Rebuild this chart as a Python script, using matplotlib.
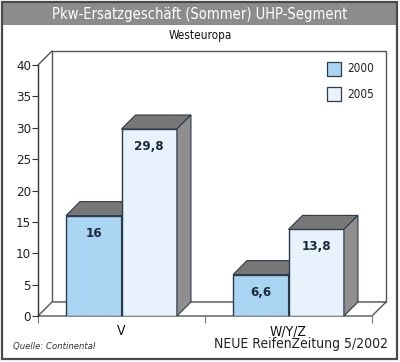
import matplotlib
matplotlib.use("Agg")
import matplotlib.pyplot as plt
from matplotlib.patches import Rectangle, Polygon
from matplotlib import font_manager as fm

categories = ["V", "W/Y/Z"]
series_names = ["2000", "2005"]
values_2000 = [16, 6.6]
values_2005 = [29.8, 13.8]
value_labels_2000 = ["16", "6,6"]
value_labels_2005 = ["29,8", "13,8"]
yticks = [0, 5, 10, 15, 20, 25, 30, 35, 40]
title = "Pkw-Ersatzgeschäft (Sommer) UHP-Segment"
subtitle = "Westeuropa"
source = "Quelle: Continental"
credit = "NEUE ReifenZeitung 5/2002"

names = {f.name for f in fm.fontManager.ttflist}
FAM = ['Liberation Sans Narrow', 'DejaVu Sans'] if 'Liberation Sans Narrow' in names else ['DejaVu Sans']
plt.rcParams['font.family'] = FAM
plt.rcParams['font.stretch'] = 'condensed'

W, H = 400, 362
fig = plt.figure(figsize=(W / 100, H / 100), dpi=100)
fig.patch.set_facecolor('white')

def fx(px):
    return px / W

def fy(py):
    return 1 - py / H

# outer frame and title bar
fig.patches.append(Rectangle((fx(2), fy(359)), fx(395), (357) / H, transform=fig.transFigure,
                             facecolor='none', edgecolor='#4a4a4a', linewidth=1.6, zorder=5))
fig.patches.append(Rectangle((fx(3), fy(25)), fx(394), 22 / H, transform=fig.transFigure,
                             facecolor='#8c8c8c', edgecolor='none', zorder=1))
fig.text(0.5, fy(14), title, color='white', fontsize=10.5, ha='center', va='center')
fig.text(0.5, fy(36), subtitle, color='#111111', fontsize=8.5, ha='center', va='center')
fig.text(fx(13), fy(347), source, color='#333333', fontsize=6.8, style='italic', ha='left', va='center')
fig.text(fx(388), fy(344), credit, color='#222222', fontsize=10, ha='right', va='center')

ax = fig.add_axes([fx(38), fy(316), fx(334), 251 / H])
ax.set_xlim(-0.5, 1.5)
ax.set_ylim(0, 40)
ax.patch.set_alpha(0)
for s in ['top', 'right', 'bottom']:
    ax.spines[s].set_visible(False)
ax.spines['left'].set_color('#333333')
ax.spines['left'].set_linewidth(1.0)

# depth in data units (14 px)
dx = 14 / (334 / 2.0)
dy = 14 / (251 / 40.0)
line_c = '#555555'

# back wall
ax.add_patch(Rectangle((-0.5 + dx, dy), 2.0, 40, facecolor='white', edgecolor=line_c,
                       linewidth=1.0, clip_on=False, zorder=0))
# floor
ax.add_patch(Polygon([(-0.5, 0), (1.5, 0), (1.5 + dx, dy), (-0.5 + dx, dy)], closed=True,
                     facecolor='white', edgecolor=line_c, linewidth=1.0, clip_on=False, zorder=1))
# top-left connector
ax.plot([-0.5, -0.5 + dx], [40, 40 + dy], color=line_c, linewidth=1.0, clip_on=False, zorder=1)

width = 0.332
edge = '#2c3b4a'
colors = ['#a9d4f2', '#e7f2fc']
top_c = '#777777'
side_c = '#8f8f8f'

def bar3d(x0, v, color, label):
    x1 = x0 + width
    ax.bar(x0, v, width=width, align='edge', color=color, edgecolor=edge, linewidth=1.0, zorder=3)
    ax.add_patch(Polygon([(x0, v), (x0 + dx, v + dy), (x1 + dx, v + dy), (x1, v)], closed=True,
                         facecolor=top_c, edgecolor=edge, linewidth=0.8, zorder=3, clip_on=False))
    ax.add_patch(Polygon([(x1, 0), (x1 + dx, dy), (x1 + dx, v + dy), (x1, v)], closed=True,
                         facecolor=side_c, edgecolor=edge, linewidth=0.8, zorder=3, clip_on=False))
    ax.text(x0 + width / 2, v - 2.8, label, ha='center', va='center', fontsize=9.5,
            color='#1c2a3c', fontweight='bold', zorder=5)

for i in range(len(categories)):
    bar3d(i - width, values_2000[i], colors[0], value_labels_2000[i])
    bar3d(i, values_2005[i], colors[1], value_labels_2005[i])

ax.set_yticks(yticks)
ax.set_yticklabels([str(t) for t in yticks])
ax.tick_params(axis='y', direction='out', length=4, width=0.8, color='#333333',
               labelsize=9.5, labelcolor='#222222', pad=1)
ax.set_xticks(range(len(categories)))
ax.set_xticklabels(categories)
ax.set_xticks([-0.5, 0.5, 1.5], minor=True)
ax.tick_params(axis='x', which='major', length=0, labelsize=10, labelcolor='#111111', pad=6)
ax.tick_params(axis='x', which='minor', direction='out', length=5, width=0.8, color='#777777')

# legend on back wall
lx = [fx(327), fx(327)]
ly = [fy(76), fy(101)]
for k in range(2):
    fig.patches.append(Rectangle((lx[k], ly[k]), fx(14), 14 / H, transform=fig.transFigure,
                                 facecolor=colors[k], edgecolor='#2c3b4a', linewidth=0.9, zorder=5))
    fig.text(fx(347), ly[k] + 7 / H, series_names[k], fontsize=8.5, color='#222222',
             ha='left', va='center')

fig.savefig('out.png', dpi=100)
